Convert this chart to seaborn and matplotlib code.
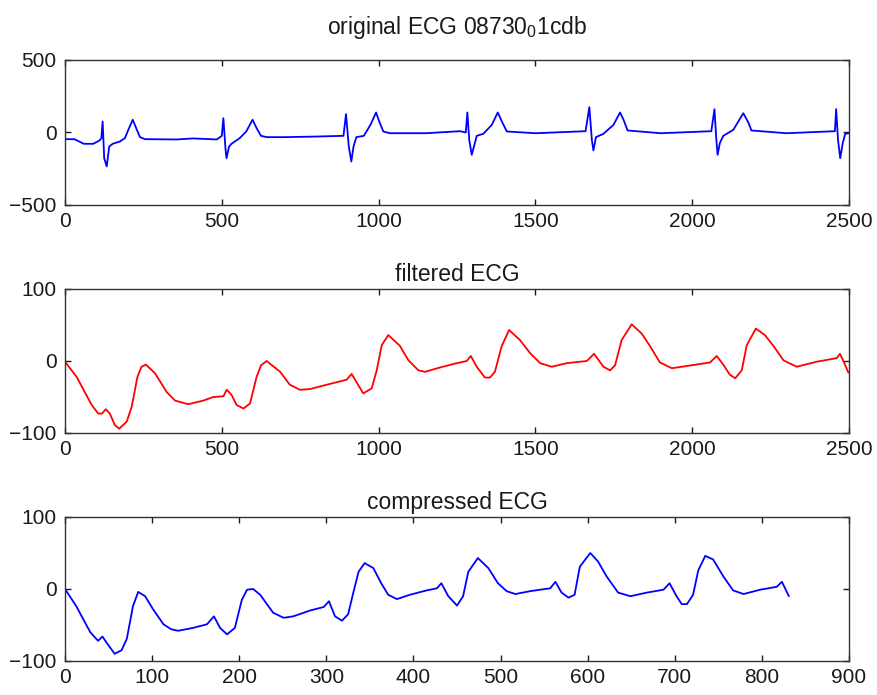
import matplotlib
matplotlib.use("Agg")
import matplotlib.pyplot as plt
import seaborn as sns
import pandas as pd

# ---- original ECG (samples 0..2500) ----
orig_x = [0, 30, 60, 90, 110, 116, 120, 125, 133, 141, 152, 175, 191, 202, 216, 227, 239, 255,
          356, 409, 484, 500, 505, 512, 515, 523, 531, 557, 578, 598, 611, 625, 643, 700, 800,
          888, 896, 905, 913, 920, 929, 953, 974, 992, 1002, 1015, 1036, 1150, 1260,
          1278, 1283, 1289, 1297, 1304, 1313, 1334, 1361, 1380, 1393, 1409, 1500, 1660,
          1672, 1680, 1685, 1693, 1717, 1749, 1770, 1781, 1794, 1900, 2061,
          2071, 2077, 2081, 2088, 2099, 2131, 2163, 2179, 2189, 2300, 2455,
          2459, 2465, 2472, 2480, 2488, 2500]
orig_y = [-46, -46, -78, -78, -55, -40, 76, -177, -234, -97, -78, -62, -39, 19, 88, 30, -32, -46,
          -48, -41, -48, -23, 99, -119, -177, -97, -78, -39, 7, 88, 30, -23, -32, -32, -28,
          -23, 127, -97, -200, -97, -32, -23, 53, 138, 76, 7, -5, -5, 9,
          0, 138, -51, -154, -97, -23, -9, 53, 138, 76, 7, -5, 9,
          175, -51, -124, -32, -9, 53, 138, 88, 14, -5, 9,
          161, -51, -154, -74, -23, 18, 133, 69, 14, -5, 9,
          161, -51, -177, -74, -9, -5]

# ---- filtered ECG ----
filt_x = [0, 37, 85, 106, 118, 130, 143, 159, 173, 197, 213, 231, 244, 258, 287, 324, 351, 393,
          441, 473, 505, 516, 531, 547, 569, 590, 611, 625, 643, 686, 717, 749, 781, 834, 898,
          914, 925, 951, 978, 994, 1010, 1031, 1068, 1095, 1127, 1148, 1196, 1240, 1281, 1294,
          1313, 1339, 1355, 1371, 1392, 1416, 1451, 1483, 1515, 1552, 1600, 1664, 1687, 1717,
          1738, 1754, 1775, 1807, 1839, 1865, 1897, 1935, 1982, 2057, 2078, 2099, 2120, 2137,
          2158, 2174, 2203, 2232, 2259, 2291, 2333, 2397, 2461, 2471, 2481, 2498]
filt_y = [-1, -22, -61, -73, -73, -67, -73, -89, -94, -84, -63, -22, -8, -5, -17, -43, -55, -60,
          -55, -50, -49, -40, -47, -61, -66, -59, -22, -6, 0, -15, -33, -40, -39, -33, -26,
          -18, -26, -45, -38, -13, 22, 36, 21, 1, -13, -15, -9, -4, 0, 7,
          -8, -23, -23, -15, 20, 43, 29, 11, -3, -8, -3, 0, 10, -8,
          -13, -6, 29, 51, 38, 21, -2, -10, -7, -2, 7, -5, -19, -24,
          -13, 22, 45, 36, 21, 1, -8, -1, 4, 10, 1, -16]

# ---- compressed ECG ----
comp_x = [0, 13, 29, 38, 43, 48, 57, 65, 71, 78, 84, 92, 101, 113, 122, 130, 147, 163, 171,
          178, 186, 195, 203, 209, 216, 224, 239, 251, 262, 281, 297, 303, 310, 318, 325, 331,
          337, 344, 354, 363, 371, 381, 396, 415, 427, 432, 440, 450, 457, 463, 474, 486,
          497, 507, 517, 534, 557, 563, 570, 578, 585, 591, 603, 612, 622, 635, 649, 668,
          687, 694, 702, 708, 714, 721, 727, 735, 744, 756, 767, 779, 798, 817, 823, 831]
comp_y = [0, -24, -60, -72, -66, -75, -90, -85, -69, -24, -4, -10, -28, -49, -56, -58, -54, -49,
          -38, -54, -63, -54, -15, -1, 0, -8, -33, -40, -38, -30, -25, -17, -38, -44, -35, -5,
          24, 36, 29, 8, -8, -14, -8, -2, 1, 8, -10, -23, -10, 24, 43, 29,
          8, -3, -7, -3, 1, 10, -5, -12, -8, 31, 50, 38, 17, -5, -10, -5,
          -1, 8, -10, -21, -21, -8, 26, 46, 41, 17, -2, -7, -1, 3, 10, -10]

titles = ["original ECG 08730$_0$1cdb", "filtered ECG", "compressed ECG"]
xlims = [(0, 2500), (0, 2500), (0, 900)]
ylims = [(-500, 500), (-100, 100), (-100, 100)]
yticks = [[-500, 0, 500], [-100, 0, 100], [-100, 0, 100]]
xticks = [[0, 500, 1000, 1500, 2000, 2500], [0, 500, 1000, 1500, 2000, 2500],
          [0, 100, 200, 300, 400, 500, 600, 700, 800, 900]]
colors = ["#0000ff", "#ff0000", "#0000ff"]

sns.set_style("ticks")
plt.rcParams['font.family'] = ['Liberation Sans', 'DejaVu Sans']
plt.rcParams['mathtext.fontset'] = 'custom'
plt.rcParams['mathtext.rm'] = 'Liberation Sans'
plt.rcParams['mathtext.it'] = 'Liberation Sans'

fig = plt.figure(figsize=(8.77, 6.95), dpi=100)
fig.patch.set_facecolor("white")

positions = [
    (65 / 877, 1 - 205 / 695, 784 / 877, 145 / 695),
    (65 / 877, 1 - 433 / 695, 784 / 877, 144 / 695),
    (65 / 877, 1 - 661 / 695, 784 / 877, 144 / 695),
]
title_pads = [19, 5.5, 5.5]

data = [(orig_x, orig_y), (filt_x, filt_y), (comp_x, comp_y)]
for i, (xs, ys) in enumerate(data):
    ax = fig.add_axes(positions[i])
    df = pd.DataFrame({"x": xs, "y": ys})
    sns.lineplot(data=df, x="x", y="y", ax=ax, color=colors[i], linewidth=1.3,
                 estimator=None, sort=False)
    ax.set_xlim(*xlims[i])
    ax.set_ylim(*ylims[i])
    ax.set_xticks(xticks[i])
    ax.set_yticks(yticks[i])
    ax.set_xlabel("")
    ax.set_ylabel("")
    ax.set_title(titles[i], fontsize=16.5, pad=title_pads[i], color="#1a1a1a")
    for s in ax.spines.values():
        s.set_visible(True)
        s.set_color("#333333")
        s.set_linewidth(1.0)
    ax.tick_params(direction="in", length=4.5, width=1.0, top=True, right=True,
                   labelsize=15, colors="#1a1a1a", pad=5)
    ax.tick_params(axis="y", pad=6)

fig.savefig("out.png", dpi=100, facecolor="white")
